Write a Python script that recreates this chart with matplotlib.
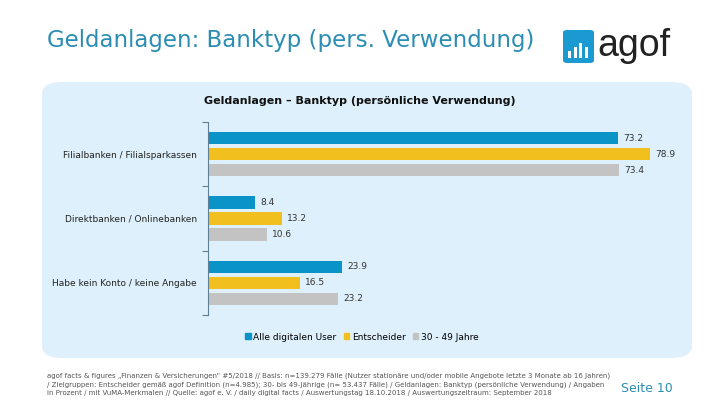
import matplotlib.pyplot as plt
import numpy as np
from matplotlib.patches import FancyBboxPatch, Rectangle

categories = ["Filialbanken / Filialsparkassen", "Direktbanken / Onlinebanken", "Habe kein Konto / keine Angabe"]
series_names = ["Alle digitalen User", "Entscheider", "30 - 49 Jahre"]
alle_user = [73.2, 8.4, 23.9]
entscheider = [78.9, 13.2, 16.5]
jahre_30_49 = [73.4, 10.6, 23.2]

colors = ["#0A93C6", "#F2C01E", "#C3C3C3"]
teal = "#2B8DB3"

fig = plt.figure(figsize=(7.2, 4.05), dpi=100)
fig.patch.set_facecolor("white")

# light blue panel behind the chart
panel = FancyBboxPatch((42 / 720, 1 - 358 / 405), 650 / 720, 276 / 405,
                       boxstyle="round,pad=0,rounding_size=0.03",
                       transform=fig.transFigure, facecolor="#DDF0FB", edgecolor="none", zorder=-5)
fig.patches.append(panel)

fig.text(47 / 720, 1 - 40 / 405, "Geldanlagen: Banktyp (pers. Verwendung)", color=teal,
         fontsize=16.5, va="center", ha="left", family="DejaVu Sans")

# agof logo
fig.patches.append(FancyBboxPatch((563 / 720, 1 - 63 / 405), 31 / 720, 33 / 405,
                                  boxstyle="round,pad=0,rounding_size=0.006",
                                  transform=fig.transFigure, facecolor="#1A9AD0", edgecolor="none"))
for i, h in enumerate([7, 11, 15, 11]):
    fig.patches.append(Rectangle(((568 + i * 5.5) / 720, 1 - 58 / 405), 3 / 720, h / 405,
                                 transform=fig.transFigure, facecolor="white", edgecolor="none"))
fig.text(597 / 720, 1 - 46 / 405, "agof", fontsize=27, color="#222222", va="center", ha="left",
         family="Liberation Sans")

fig.text(360 / 720, 1 - 101 / 405, "Geldanlagen \u2013 Banktyp (persönliche Verwendung)",
         fontsize=8, fontweight="bold", ha="center", va="center", color="#111111")

ax = fig.add_axes([208 / 720, 1 - 315 / 405, 448 / 720, 193 / 405])
ax.set_facecolor("none")

y = np.arange(len(categories))
offsets = [-0.25, 0, 0.25]
for vals, off, col in zip([alle_user, entscheider, jahre_30_49], offsets, colors):
    ax.barh(y + off, vals, height=0.19, color=col, edgecolor="none")
    for yi, v in zip(y, vals):
        ax.text(v + 0.9, yi + off, f"{v:.1f}", fontsize=6.5, va="center", ha="left", color="#333333")

ax.set_xlim(0, 80)
ax.set_ylim(2.5, -0.5)
ax.set_yticks(y)
ax.set_yticklabels(categories, fontsize=6.5, color="#222222")
ax.set_yticks([-0.5, 0.5, 1.5, 2.5], minor=True)
ax.tick_params(axis="y", which="major", length=0, pad=8)
ax.tick_params(axis="y", which="minor", length=4, color="#5F7F95", width=0.8)
ax.set_xticks([])
for s in ["top", "right", "bottom"]:
    ax.spines[s].set_visible(False)
ax.spines["left"].set_color("#5F7F95")
ax.spines["left"].set_linewidth(0.8)

handles = [Rectangle((0, 0), 1, 1, color=c) for c in colors]
fig.legend(handles, series_names, loc="center", bbox_to_anchor=(362 / 720, 1 - 337 / 405),
           ncol=3, frameon=False, fontsize=6.5, handlelength=0.6, handleheight=0.6,
           handletextpad=0.3, columnspacing=0.8)

footer = ["agof facts & figures \u201eFinanzen & Versicherungen\u201c #5/2018 // Basis: n=139.279 Fälle (Nutzer stationäre und/oder mobile Angebote letzte 3 Monate ab 16 Jahren)",
          "/ Zielgruppen: Entscheider gemäß agof Definition (n=4.985); 30- bis 49-Jährige (n= 53.437 Fälle) / Geldanlagen: Banktyp (persönliche Verwendung) / Angaben",
          "in Prozent / mit VuMA-Merkmalen // Quelle: agof e. V. / daily digital facts / Auswertungstag 18.10.2018 / Auswertungszeitraum: September 2018"]
for i, line in enumerate(footer):
    fig.text(47 / 720, 1 - (376 + i * 8.7) / 405, line, fontsize=5.0, color="#555555",
             va="center", ha="left")

fig.text(673 / 720, 1 - 389 / 405, "Seite 10", fontsize=9, color=teal, ha="right", va="center")

fig.savefig("out.png", dpi=100)
